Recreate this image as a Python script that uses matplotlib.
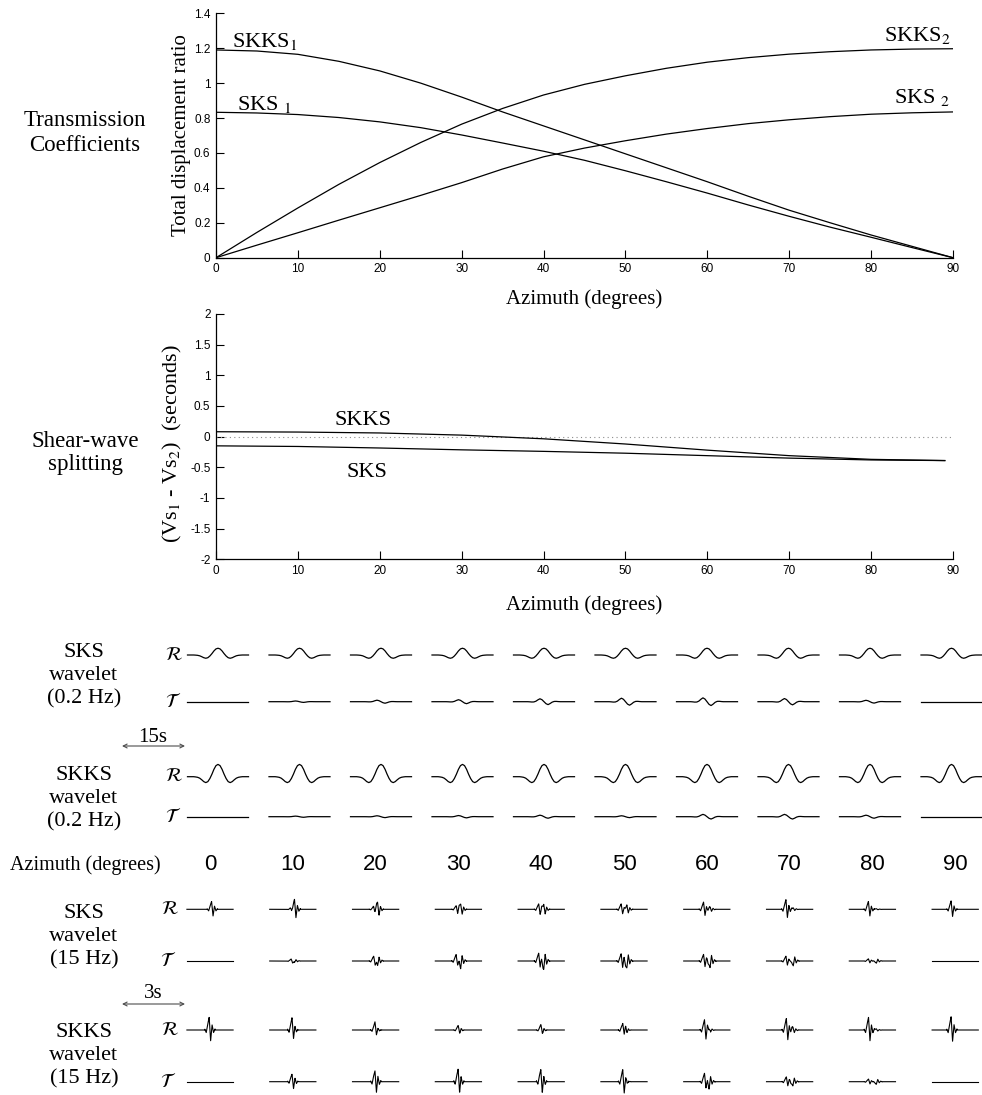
import numpy as np
import matplotlib.pyplot as plt
from matplotlib.ticker import FuncFormatter

plt.rcParams['font.family'] = 'Liberation Serif'
plt.rcParams['mathtext.fontset'] = 'stix'

# transmission coefficients (total displacement ratio), every 5 degrees
az_tc = np.arange(0, 91, 5)
skks_1 = [1.19, 1.184, 1.165, 1.125, 1.07, 1.0, 0.92, 0.835, 0.755, 0.675,
          0.595, 0.515, 0.435, 0.352, 0.272, 0.2, 0.13, 0.065, 0.0]
sks_1 = [0.833, 0.829, 0.82, 0.803, 0.778, 0.745, 0.703, 0.657, 0.61, 0.558,
         0.498, 0.435, 0.37, 0.302, 0.237, 0.175, 0.117, 0.058, 0.0]
sks_2 = [0.0, 0.072, 0.143, 0.215, 0.286, 0.357, 0.43, 0.508, 0.578, 0.628,
         0.67, 0.708, 0.74, 0.768, 0.79, 0.808, 0.822, 0.83, 0.835]
skks_2 = [0.0, 0.145, 0.285, 0.42, 0.545, 0.66, 0.765, 0.855, 0.932, 0.993,
          1.042, 1.085, 1.12, 1.146, 1.166, 1.18, 1.19, 1.195, 1.197]

# shear-wave splitting time Vs1 - Vs2 (s)
az_split = [0, 10, 20, 30, 40, 50, 60, 70, 80, 89]
dt_skks = [0.08, 0.075, 0.06, 0.025, -0.035, -0.12, -0.22, -0.31, -0.37, -0.39]
dt_sks = [-0.15, -0.16, -0.185, -0.215, -0.24, -0.27, -0.31, -0.35, -0.38, -0.39]

# synthetic wavelets at each azimuth
azimuths = [0, 10, 20, 30, 40, 50, 60, 70, 80, 90]

# 0.2 Hz pulse, sampled every 0.5 s over 15 s
lf_r_shape = [0, 0, 0, 0, -0.02, -0.05, -0.12, -0.25, -0.4, -0.48, -0.4, -0.15, 0.2, 0.6, 0.9,
              1.0,
              0.9, 0.6, 0.2, -0.15, -0.4, -0.48, -0.4, -0.25, -0.12, -0.05, -0.02, 0, 0, 0, 0]
lf_t_shape = [0, 0, 0, 0, 0, 0, 0,
              0, -0.04, -0.1, -0.08, 0.15, 0.6, 0.95, 0.65, 0, -0.65, -0.95, -0.6, -0.15, 0.08, 0.1, 0.04, 0,
              0, 0, 0, 0, 0, 0, 0]
sks_lf_r = [0.55, 0.55, 0.55, 0.55, 0.55, 0.55, 0.55, 0.55, 0.55, 0.55]
sks_lf_t = [0, 0.06, 0.13, 0.17, 0.25, 0.3, 0.33, 0.27, 0.12, 0]
skks_lf_r = [1.0, 1.0, 1.0, 1.0, 1.0, 1.0, 1.0, 1.0, 1.0, 1.0]
skks_lf_t = [0, 0.05, 0.08, 0.1, 0.13, 0.08, 0.2, 0.2, 0.13, 0]

# 15 Hz burst, one sample per 0.07 s; (first, second) arrival amplitudes
hf_burst = [0.08, -0.2, 0.45, 1.0, -0.85, 0.4, -0.2, 0.08]
sks_hf_r = [(0.0, 0.65), (0.12, 0.8), (0.25, 0.6), (0.3, 0.5), (0.45, 0.45),
            (0.45, 0.35), (0.6, 0.2), (0.8, 0.12), (0.65, 0.05), (0.7, 0.0)]
sks_hf_t = [(0, 0), (0.15, -0.15), (0.4, -0.4), (0.55, -0.55), (0.65, -0.65),
            (0.6, -0.6), (0.55, -0.55), (0.4, -0.4), (0.18, -0.18), (0, 0)]
skks_hf_r = [(1.05, 0), (1.0, 0.1), (0.6, 0.15), (0.3, 0.1), (0.35, 0.15),
             (0.55, 0.2), (0.85, 0.2), (0.95, 0.25), (1.05, 0.1), (1.1, 0)]
skks_hf_t = [(0, 0), (0.65, -0.05), (0.95, -0.1), (1.1, -0.05), (1.1, -0.1),
             (1.0, -0.15), (0.7, -0.5), (0.4, -0.35), (0.22, -0.22), (0, 0)]

W, H = 982, 1095
fig = plt.figure(figsize=(W / 100, H / 100), dpi=100)


def px_axes(left, top, right, bottom):
    return fig.add_axes([left / W, 1 - bottom / H, (right - left) / W, (bottom - top) / H])


# pixel-space overlay for the wavelet panel and side captions
low = fig.add_axes([0, 0, 1, 1])
low.set_xlim(0, W)
low.set_ylim(H, 0)
low.axis('off')

fmt = FuncFormatter(lambda v, p: '%g' % v)


def style(ax, ylim, yticks):
    ax.set_xlim(0, 90)
    ax.set_ylim(*ylim)
    ax.set_xticks(range(0, 91, 10))
    ax.set_yticks(yticks)
    ax.xaxis.set_major_formatter(fmt)
    ax.yaxis.set_major_formatter(fmt)
    ax.spines[['top', 'right']].set_visible(False)
    ax.spines[['left', 'bottom']].set_linewidth(0.9)
    ax.tick_params(direction='in', length=5.5, width=0.8, labelsize=8.5, pad=4,
                   labelfontfamily='Liberation Sans')
    ax.patch.set_visible(False)


# transmission coefficients
ax1 = px_axes(216, 13.3, 953, 257.7)
style(ax1, (0, 1.4), np.arange(0, 1.41, 0.2))
for curve in (skks_1, sks_1, sks_2, skks_2):
    ax1.plot(az_tc, curve, color='k', lw=0.9)
ax1.text(1.95, 1.207, 'SKKS$_1$', fontsize=16)
ax1.text(2.6, 0.846, 'SKS $_1$', fontsize=16)
ax1.text(89.7, 1.241, 'SKKS$_2$', fontsize=16, ha='right')
ax1.text(89.7, 0.886, 'SKS $_2$', fontsize=16, ha='right')
ax1.set_ylabel('Total displacement ratio', fontsize=15)
ax1.yaxis.set_label_coords(-0.034, 0.5)
ax1.set_xlabel('Azimuth (degrees)', fontsize=15)
ax1.xaxis.set_label_coords(0.5, -0.128)

# splitting times
ax2 = px_axes(216, 314, 953, 559.3)
style(ax2, (-2, 2), np.arange(-2, 2.01, 0.5))
ax2.axhline(0, color='0.55', ls=(0, (1, 3)), lw=0.8)
ax2.plot(az_split, dt_skks, color='k', lw=0.9)
ax2.plot(az_split, dt_sks, color='k', lw=0.9)
ax2.text(14.5, 0.19, 'SKKS', fontsize=16)
ax2.text(15.9, -0.66, 'SKS', fontsize=16)
ax2.set_ylabel('(Vs$_1$ - Vs$_2$)  (seconds)', fontsize=16)
ax2.yaxis.set_label_coords(-0.044, 0.47)
ax2.set_xlabel('Azimuth (degrees)', fontsize=15)
ax2.xaxis.set_label_coords(0.5, -0.148)

low.text(85, 133, 'Transmission\nCoefficients', fontsize=16.5, ha='center', va='center',
         linespacing=1.3)
low.text(85, 453, 'Shear-wave\nsplitting', fontsize=16.5, ha='center', va='center',
         linespacing=1.1)

# 0.2 Hz wavelets
lf_time = (np.arange(len(lf_r_shape)) - 15) * 0.5
lf_px_s = 61 / 15
lf_gain = 12.3
lf_rows = [(655, sks_lf_r, lf_r_shape), (701.7, sks_lf_t, lf_t_shape),
           (776.7, skks_lf_r, lf_r_shape), (816.7, skks_lf_t, lf_t_shape)]
for i, az in enumerate(azimuths):
    xc = 218 + 81.5 * i
    for y0, amps, shape in lf_rows:
        low.plot(xc + lf_time * lf_px_s, y0 - lf_gain * amps[i] * np.array(shape),
                 color='k', lw=0.9)

# 15 Hz wavelets
hf_t = np.arange(-1.1, 1.1001, 0.005)
burst_t = (np.arange(len(hf_burst)) - 3) * 0.07
hf_px_s = 21
hf_gain = 12


def hf_trace(pair, lag):
    a1, a2 = pair
    first = np.interp(hf_t, burst_t - lag / 2, hf_burst, left=0, right=0)
    second = np.interp(hf_t, burst_t + lag / 2, hf_burst, left=0, right=0)
    return a1 * first + a2 * second


hf_rows = [(909.3, sks_hf_r, dt_sks), (961, sks_hf_t, dt_sks),
           (1030, skks_hf_r, dt_skks), (1081.7, skks_hf_t, dt_skks)]
for i, az in enumerate(azimuths):
    xc = 210 + 82.8 * i
    for y0, pairs, lags in hf_rows:
        y = hf_trace(pairs[i], abs(lags[i]))
        low.plot(xc + hf_t * hf_px_s, y0 - hf_gain * y, color='k', lw=0.8)
    low.text(xc, 865, str(az), fontsize=16, ha='center', va='center',
             family='Liberation Sans')

low.text(85, 865, 'Azimuth (degrees)', fontsize=14.5, ha='center', va='center')

# row captions and component letters
captions = [(676, 'SKS\nwavelet\n(0.2 Hz)'), (799, 'SKKS\nwavelet\n(0.2 Hz)'),
            (937, 'SKS\nwavelet\n(15 Hz)'), (1056, 'SKKS\nwavelet\n(15 Hz)')]
for yc, txt in captions:
    low.text(84, yc, txt, fontsize=16, ha='center', va='center', linespacing=1.3)
for y0, x0, letter in [(655, 174, 'R'), (701.7, 173, 'T'), (776.7, 174, 'R'), (816.7, 173, 'T'),
                       (909.3, 170, 'R'), (961, 168, 'T'), (1030, 170, 'R'), (1081.7, 168, 'T')]:
    low.text(x0, y0, r'$\mathcal{%s}$' % letter, fontsize=14, ha='center', va='center')

# time-scale bars
for yt, ya, label in [(737, 746, '15s'), (994, 1004, '3s')]:
    low.text(153, yt, label, fontsize=15, ha='center', va='center')
    low.annotate('', xy=(122, ya), xytext=(185, ya),
                 arrowprops=dict(arrowstyle='<->', color='0.3', lw=0.8,
                                 mutation_scale=7, shrinkA=0, shrinkB=0))

fig.savefig('out.png', dpi=100)
